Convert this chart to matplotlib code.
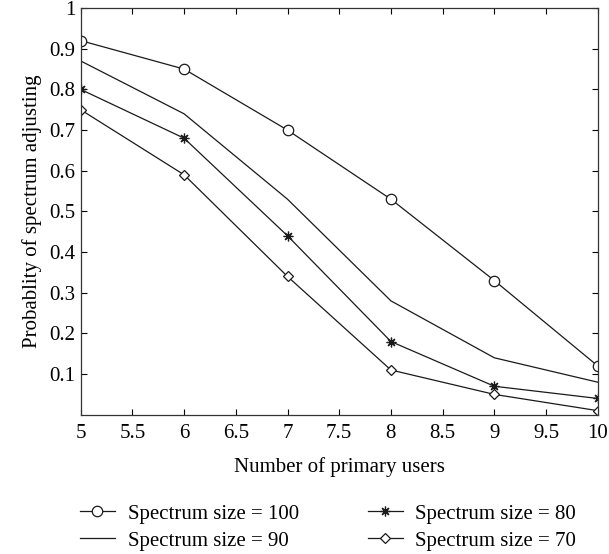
import numpy as np
import matplotlib
matplotlib.use('Agg')
import matplotlib.pyplot as plt

plt.rcParams['font.family'] = ['Liberation Serif', 'DejaVu Serif']

# data
users = [5, 6, 7, 8, 9, 10]
p100 = [0.92, 0.85, 0.70, 0.53, 0.33, 0.12]
p90 = [0.87, 0.74, 0.53, 0.28, 0.14, 0.08]
p80 = [0.80, 0.68, 0.44, 0.18, 0.07, 0.04]
p70 = [0.75, 0.59, 0.34, 0.11, 0.05, 0.01]
xticks = [5, 5.5, 6, 6.5, 7, 7.5, 8, 8.5, 9, 9.5, 10]
yticks = [0.1, 0.2, 0.3, 0.4, 0.5, 0.6, 0.7, 0.8, 0.9, 1]

fig = plt.figure(figsize=(6.09, 5.54), dpi=100)
# axes box: x 81..598 px, y 8..415 px
ax = fig.add_axes([0.1325, 0.2514, 0.849, 0.734])

c = '#1a1a1a'
lw = 0.9
ax.plot(users, p100, color=c, lw=lw, marker='o', ms=7.5, mfc='white', mew=0.9, label='Spectrum size = 100')
ax.plot(users, p90, color=c, lw=lw, label='Spectrum size = 90')
ax.plot(users, p80, color=c, lw=lw, marker=(8, 2, 0), ms=7, mew=0.9, label='Spectrum size = 80')
ax.plot(users, p70, color=c, lw=lw, marker='D', ms=5.5, mfc='white', mew=0.9, label='Spectrum size = 70')

ax.set_xlim(5, 10)
ax.set_ylim(0, 1)
ax.set_xticks(xticks)
ax.set_xticklabels([f'{v:g}' for v in xticks])
ax.set_yticks(yticks)
ax.set_yticklabels([f'{v:g}' for v in yticks])
ax.tick_params(direction='in', length=4.5, width=0.8, labelsize=15, right=True, top=True)
ax.tick_params(axis='x', pad=7)
ax.tick_params(axis='y', pad=4)
for s in ax.spines.values():
    s.set_linewidth(0.9)
    s.set_color('#333333')
ax.set_xlabel('Number of primary users', fontsize=15, labelpad=10)
ax.set_ylabel('Probablity of spectrum adjusting', fontsize=15, labelpad=5)

fig.legend(loc='upper left', bbox_to_anchor=(0.131, 0.090), ncol=2, frameon=False,
           fontsize=15, handlelength=1.7, handletextpad=0.6, columnspacing=3.3,
           labelspacing=0.35, borderpad=0, borderaxespad=0)

fig.savefig('out.png', dpi=100)
